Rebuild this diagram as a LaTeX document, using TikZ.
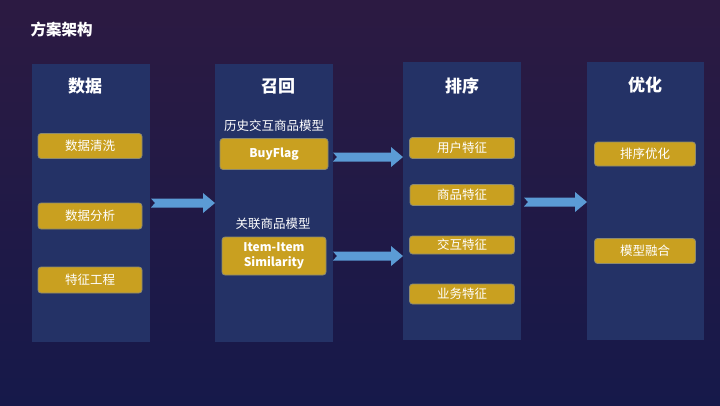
\documentclass[tikz,border=0pt]{standalone}
\usepackage{fontspec}
\setmainfont{Noto Sans CJK SC}
\usetikzlibrary{calc}
\definecolor{bgA}{HTML}{2C1A42}
\definecolor{bgB}{HTML}{16194A}
\definecolor{colf}{HTML}{243266}
\definecolor{boxf}{HTML}{C9A020}
\definecolor{boxd}{HTML}{8C8A70}
\definecolor{arr}{HTML}{5B9BD5}
\begin{document}
\begin{tikzpicture}[x=1pt,y=-1pt,
  col/.style={fill=colf,draw=none},
  hd/.style={text=white,font=\bfseries\fontsize{17}{17}\selectfont},
  bx/.style={fill=boxf,draw=boxd,line width=0.8pt,rounded corners=3pt,text=white,font=\fontsize{12.5}{14}\selectfont,align=center,inner sep=0pt},
  lb/.style={text=white,font=\fontsize{12.5}{14}\selectfont},
  ar/.style={fill=arr,draw=none}]
\shade[top color=bgA,bottom color=bgB] (0,0) rectangle (720,405);
\useasboundingbox (0,0) rectangle (720,405);
\node[text=white,font=\bfseries\fontsize{15.5}{16}\selectfont,anchor=west] (title) at (27,30) {方案架构};
\fill[col] (32,64) rectangle (150,342);
\fill[col] (215,64) rectangle (333,342);
\fill[col] (403,62) rectangle (521,340);
\fill[col] (587,62) rectangle (704,340);
\node[hd] (h1) at (85,86) {数据};
\node[hd] (h2) at (278,86) {召回};
\node[hd] (h3) at (462,86) {排序};
\node[hd] (h4) at (645,85) {优化};
\node[bx,minimum width=104,minimum height=25] (a1) at (90,146) {数据清洗};
\node[bx,minimum width=104,minimum height=26] (a2) at (90,216) {数据分析};
\node[bx,minimum width=104,minimum height=26] (a3) at (90,280) {特征工程};
\node[lb] (l1) at (274,126) {历史交互商品模型};
\node[bx,font=\bfseries\fontsize{12}{14}\selectfont,minimum width=108,minimum height=31] (b1) at (274,154) {BuyFlag};
\node[lb] (l2) at (273,224) {关联商品模型};
\node[bx,font=\bfseries\fontsize{12}{15}\selectfont,minimum width=104,minimum height=38] (b2) at (274,256) {Item-Item\\Similarity};
\node[bx,minimum width=105,minimum height=21] (c1) at (462,148) {用户特征};
\node[bx,minimum width=104,minimum height=21] (c2) at (462,195) {商品特征};
\node[bx,minimum width=105,minimum height=18] (c3) at (462,245) {交互特征};
\node[bx,minimum width=105,minimum height=20] (c4) at (462,294) {业务特征};
\node[bx,minimum width=101,minimum height=24] (d1) at (645,154) {排序优化};
\node[bx,minimum width=101,minimum height=25] (d2) at (645,251) {模型融合};
% notched arrows
\foreach \xa/\xb/\yy in {151/215/203, 333/403/157, 333/403/256, 524/587/202}{
  \fill[ar] (\xa,\yy-4.5) -- (\xb-12,\yy-4.5) -- (\xb-12,\yy-10) -- (\xb,\yy) -- (\xb-12,\yy+10) -- (\xb-12,\yy+4.5) -- (\xa,\yy+4.5) -- (\xa+4,\yy) -- cycle;
}
\end{tikzpicture}
\end{document}
